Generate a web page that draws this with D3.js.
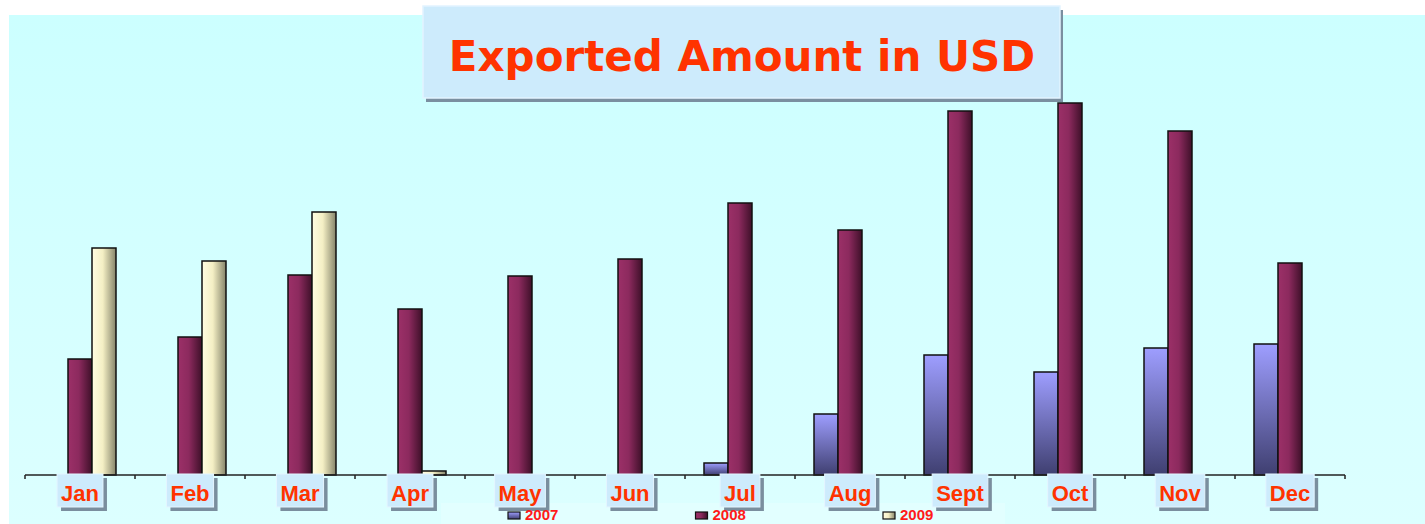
<html>
<head>
  <meta charset="utf-8">
  <title>Exported Amount in USD</title>
  <style>
    body { margin: 0; background: #ffffff; }
    svg { display: block; }
  </style>
  <script src="https://d3js.org/d3.v7.min.js"></script>
</head>
<body>
  <div id="chart"></div>
  <script>
    // Chart data (arbitrary USD units)
    const months = ["Jan", "Feb", "Mar", "Apr", "May", "Jun", "Jul", "Aug", "Sept", "Oct", "Nov", "Dec"];
    const seriesNames = ["2007", "2008", "2009"];
    const values2007 = [0, 0, 0, 0, 0, 0, 120, 610, 1200, 1030, 1270, 1310];
    const values2008 = [1160, 1380, 2000, 1660, 1990, 2160, 2720, 2450, 3640, 3720, 3440, 2120];
    const values2009 = [2270, 2140, 2630, 40, 0, 0, 0, 0, 0, 0, 0, 0];
    const titleText = "Exported Amount in USD";

    const width = 1425, height = 524;
    const baseY = 475;

    const svg = d3.select("#chart").append("svg")
      .attr("width", width)
      .attr("height", height);

    const defs = svg.append("defs");

    // background gradient
    const bg = defs.append("linearGradient").attr("id", "bg")
      .attr("x1", 0).attr("y1", 0).attr("x2", 0).attr("y2", 1);
    bg.append("stop").attr("offset", "0%").attr("stop-color", "#ccffff");
    bg.append("stop").attr("offset", "100%").attr("stop-color", "#dcffff");

    // bar gradients
    const g07 = defs.append("linearGradient").attr("id", "g2007")
      .attr("x1", 0).attr("y1", 0).attr("x2", 0).attr("y2", 1);
    g07.append("stop").attr("offset", "0%").attr("stop-color", "#9e9eff");
    g07.append("stop").attr("offset", "100%").attr("stop-color", "#3f3f70");

    const g08 = defs.append("linearGradient").attr("id", "g2008")
      .attr("x1", 0).attr("y1", 0).attr("x2", 1).attr("y2", 0);
    g08.append("stop").attr("offset", "0%").attr("stop-color", "#9c3068");
    g08.append("stop").attr("offset", "45%").attr("stop-color", "#8c2a5e");
    g08.append("stop").attr("offset", "100%").attr("stop-color", "#3e1029");

    const g09 = defs.append("linearGradient").attr("id", "g2009")
      .attr("x1", 0).attr("y1", 0).attr("x2", 1).attr("y2", 0);
    g09.append("stop").attr("offset", "0%").attr("stop-color", "#fffde2");
    g09.append("stop").attr("offset", "45%").attr("stop-color", "#f4efc4");
    g09.append("stop").attr("offset", "100%").attr("stop-color", "#85846a");

    const fills = { "2007": "url(#g2007)", "2008": "url(#g2008)", "2009": "url(#g2009)" };

    // plot background
    svg.append("rect")
      .attr("x", 9).attr("y", 15)
      .attr("width", width - 9).attr("height", height - 15)
      .attr("fill", "url(#bg)");

    // legend background sits under the category boxes
    svg.append("rect")
      .attr("x", 441).attr("y", 503).attr("width", 564).attr("height", 21)
      .attr("fill", "#e2ffff");

    // scales
    const x0 = d3.scaleBand().domain(months).range([25, 1345]);
    const x1 = d3.scaleBand().domain(seriesNames).range([19, x0.bandwidth() - 19]);
    const y = d3.scaleLinear().domain([0, 4000]).range([baseY, 75]);

    const table = months.map((m, i) => ({
      month: m,
      "2007": values2007[i],
      "2008": values2008[i],
      "2009": values2009[i]
    }));

    // bars
    const groups = svg.append("g").selectAll("g")
      .data(table)
      .join("g")
      .attr("transform", d => `translate(${x0(d.month)},0)`);

    groups.selectAll("rect")
      .data(d => seriesNames.map(s => ({ key: s, value: d[s] })).filter(e => e.value > 0))
      .join("rect")
      .attr("x", d => x1(d.key))
      .attr("y", d => y(d.value))
      .attr("width", x1.bandwidth())
      .attr("height", d => baseY - y(d.value))
      .attr("fill", d => fills[d.key])
      .attr("stroke", "#111")
      .attr("stroke-width", 1.5);

    // x axis
    const axis = svg.append("g")
      .attr("transform", `translate(0,${baseY})`);
    axis.append("line")
      .attr("x1", x0.range()[0]).attr("x2", x0.range()[1])
      .attr("stroke", "#222").attr("stroke-width", 1.5);
    axis.selectAll(".tick")
      .data(months.map(m => x0(m)).concat([x0.range()[1]]))
      .join("line")
      .attr("x1", d => d).attr("x2", d => d)
      .attr("y1", 0).attr("y2", 4)
      .attr("stroke", "#222").attr("stroke-width", 1.5);

    // category labels in boxes
    const labels = svg.append("g").selectAll("g")
      .data(months)
      .join("g")
      .attr("transform", m => `translate(${x0(m) + x0.bandwidth() / 2},0)`);

    labels.each(function (m) {
      const g = d3.select(this);
      const t = g.append("text")
        .attr("text-anchor", "middle")
        .attr("y", 501)
        .attr("font-family", "Liberation Sans, Arial, sans-serif")
        .attr("font-weight", "bold")
        .attr("font-size", 22)
        .attr("fill", "#ff3300")
        .text(m);
      const w = t.node().getComputedTextLength() + 8;
      g.insert("rect", "text")
        .attr("x", -w / 2 + 4).attr("y", 478)
        .attr("width", w).attr("height", 33)
        .attr("fill", "#7a8e9e");
      g.insert("rect", "text")
        .attr("x", -w / 2).attr("y", 474)
        .attr("width", w).attr("height", 33)
        .attr("fill", "#cdebfc")
        .attr("stroke", "#e4f5ff").attr("stroke-width", 1);
    });

    // title box
    svg.append("rect")
      .attr("x", 426).attr("y", 10).attr("width", 637).attr("height", 92)
      .attr("fill", "#7a8fa0");
    svg.append("rect")
      .attr("x", 423).attr("y", 6).attr("width", 637).attr("height", 92)
      .attr("fill", "#cdebfc")
      .attr("stroke", "#e2f4ff").attr("stroke-width", 1.5);
    svg.append("text")
      .attr("x", 742).attr("y", 71)
      .attr("text-anchor", "middle")
      .attr("font-family", "DejaVu Sans, Verdana, sans-serif")
      .attr("font-weight", "bold")
      .attr("font-size", 42)
      .attr("fill", "#ff3300")
      .text(titleText);

    // legend
    const legendX = d3.scalePoint().domain(seriesNames).range([508, 883]);
    const items = svg.append("g").selectAll("g")
      .data(seriesNames)
      .join("g")
      .attr("transform", s => `translate(${legendX(s)},0)`);
    items.append("rect")
      .attr("x", 0).attr("y", 512).attr("width", 12).attr("height", 7)
      .attr("fill", s => fills[s])
      .attr("stroke", "#111").attr("stroke-width", 1.2);
    items.append("text")
      .attr("x", 17).attr("y", 520)
      .attr("font-family", "Liberation Sans, Arial, sans-serif")
      .attr("font-weight", "bold")
      .attr("font-size", 15)
      .attr("fill", "#ff1a1a")
      .text(s => s);
  </script>
</body>
</html>
